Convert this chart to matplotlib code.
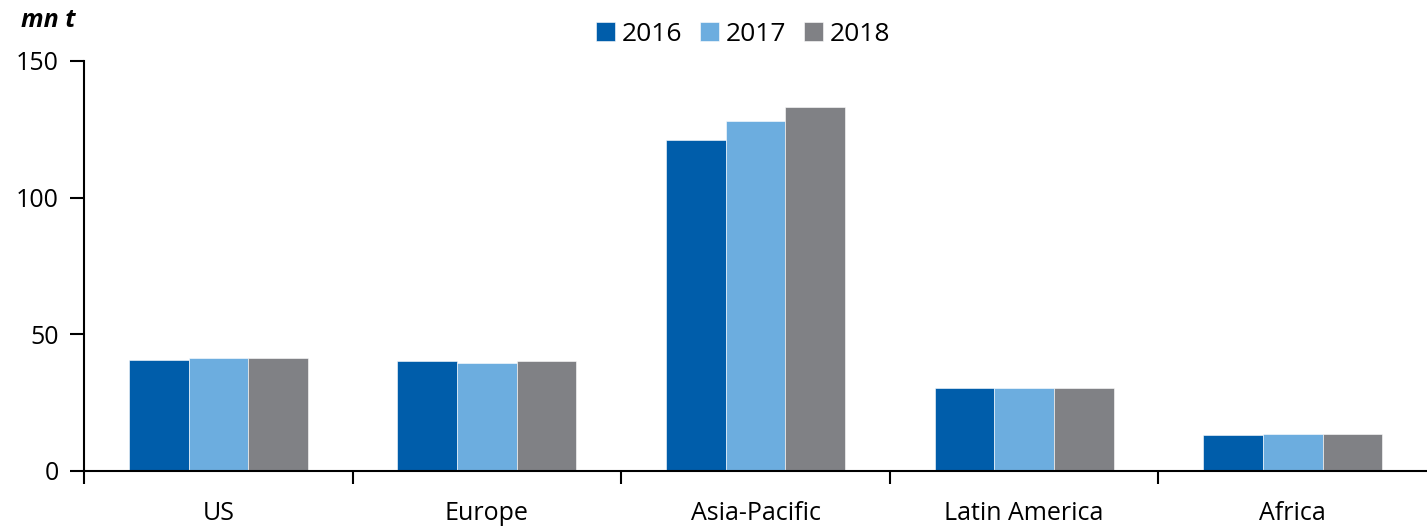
import matplotlib.pyplot as plt
import numpy as np

plt.rcParams['font.family'] = ['Open Sans', 'DejaVu Sans']

regions = ['US', 'Europe', 'Asia-Pacific', 'Latin America', 'Africa']
years = ['2016', '2017', '2018']
v2016 = [40.7, 40.0, 121.0, 30.1, 12.9]
v2017 = [41.3, 39.5, 128.0, 30.1, 13.3]
v2018 = [41.4, 40.0, 133.2, 30.1, 13.6]
colors = ['#005DAA', '#6CADDF', '#808185']

fig = plt.figure(figsize=(14.27, 5.27), dpi=100)
ax = fig.add_axes([0.0589, 0.1068, 0.9411, 0.7775])

x = np.arange(len(regions))
w = 2 / 9
for i, (vals, yr) in enumerate(zip([v2016, v2017, v2018], years)):
    ax.bar(x + (i - 1) * w, vals, w, color=colors[i], label=yr,
           edgecolor='white', linewidth=0.4)

ax.set_xlim(-0.5, 4.5)
ax.set_ylim(0, 150)
ax.set_yticks([0, 50, 100, 150])
ax.tick_params(axis='y', labelsize=18, length=10, width=1.5, direction='out', pad=8)
ax.set_xticks(x)
ax.set_xticklabels(regions, fontsize=18)
ax.tick_params(axis='x', length=0, pad=22)
ax.set_xticks(np.arange(-0.5, 4.5, 1), minor=True)
ax.tick_params(axis='x', which='minor', length=9, width=1.5, direction='out')

for s in ['top', 'right']:
    ax.spines[s].set_visible(False)
for s in ['left', 'bottom']:
    ax.spines[s].set_linewidth(1.5)

fig.text(0.015, 0.962, 'mn t', fontsize=18, fontweight='bold', fontstyle='italic',
         va='center', ha='left')
fig.legend(loc='center', bbox_to_anchor=(0.5207, 0.935), ncol=3, frameon=False,
           fontsize=19, handlelength=0.7, handleheight=0.7, handletextpad=0.25,
           columnspacing=0.7)

fig.savefig('out.png', dpi=100)
